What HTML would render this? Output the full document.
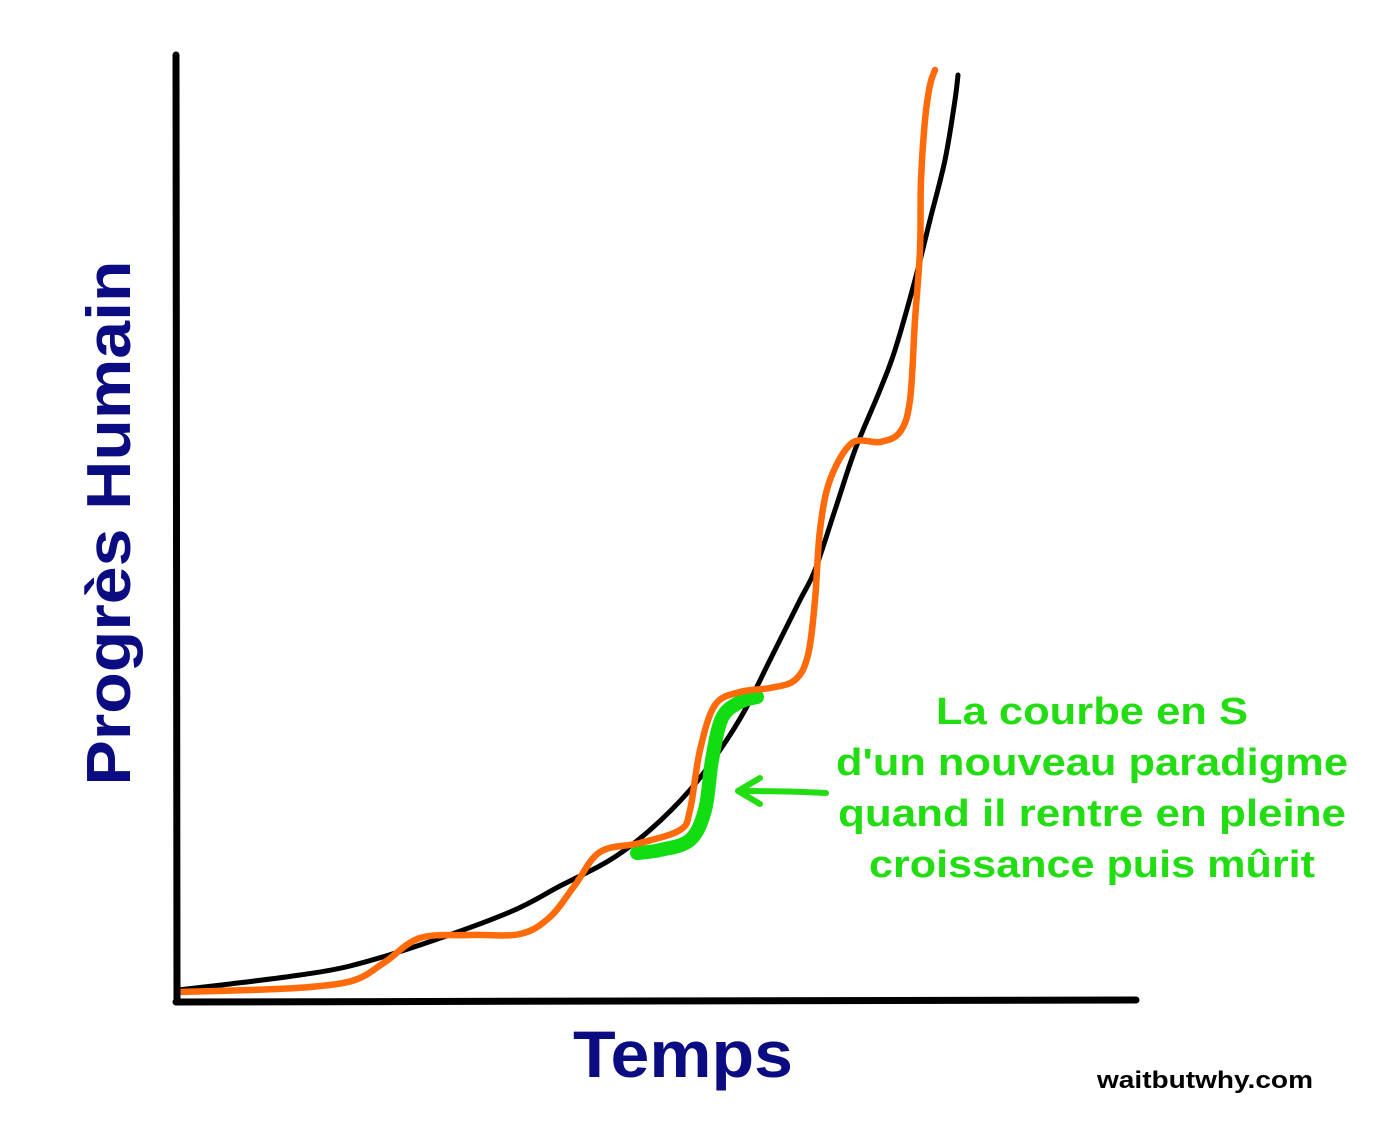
<!DOCTYPE html>
<html><head><meta charset="utf-8"><style>
html,body{margin:0;padding:0;background:#fff;}
svg{display:block;font-family:"Liberation Sans",Arial,sans-serif;}
</style></head><body>
<svg id="chart" width="1376" height="1124" viewBox="0 0 1376 1124">
<rect width="1376" height="1124" fill="#fff"/>
<g id="series"></g>
<line x1="176" y1="55" x2="177" y2="1002" stroke="#000" stroke-width="7" stroke-linecap="round"/>
<line x1="176" y1="1002" x2="1136" y2="1000" stroke="#000" stroke-width="7" stroke-linecap="round"/>
<text transform="translate(130,523) rotate(-90)" text-anchor="middle" font-size="62" font-weight="bold" fill="#0b0b82" textLength="525" lengthAdjust="spacingAndGlyphs">Progrès Humain</text>
<text x="683" y="1077" text-anchor="middle" font-size="66" font-weight="bold" fill="#0b0b82" textLength="220" lengthAdjust="spacingAndGlyphs">Temps</text>
<g font-size="38" font-weight="bold" fill="#22dd11" text-anchor="middle">
<text x="1092" y="724" textLength="312" lengthAdjust="spacingAndGlyphs">La courbe en S</text>
<text x="1092" y="775" textLength="512" lengthAdjust="spacingAndGlyphs">d'un nouveau paradigme</text>
<text x="1092" y="826" textLength="508" lengthAdjust="spacingAndGlyphs">quand il rentre en pleine</text>
<text x="1092" y="877" textLength="446" lengthAdjust="spacingAndGlyphs">croissance puis mûrit</text>
</g>
<g stroke="#22dd11" stroke-width="6" fill="none" stroke-linecap="round" stroke-linejoin="round">
<path d="M826,793 Q790,791 740,791"/>
<path d="M760,778 L738,791 L760,804"/>
</g>
<text x="1205" y="1088" text-anchor="middle" font-size="24" font-weight="bold" fill="#000" textLength="216" lengthAdjust="spacingAndGlyphs">waitbutwhy.com</text>
</svg>
<script>
// data: time (0..960) and progress (0..950)
const blackT = [2,54,124,174,244,334,384,434,474,514,544,569,594,624,639,659,679,704,719,739,754,769,779,782];
const blackP = [11,17,26,35,56,89,115,141,171,211,251,291,341,401,431,491,551,611,651,721,781,841,901,926];
const orangeT = [2,74,134,179,209,244,294,344,374,399,424,464,504,514,524,539,564,594,619,632,639,644,654,676,704,724,734,739,744,745,749,754,759];
const orangeP = [9,11,14,21,39,63,66,67,84,116,149,158,171,191,251,296,309,313,321,346,401,471,521,558,559,569,601,681,751,821,881,916,931];
const greenT = [461,484,514,529,536,546,564,581];
const greenP = [148,151,161,191,241,283,299,304];
const X0=176, Y0=1001;
function xScale(t){return X0+t;}
function yScale(p){return Y0-p;}
function smoothPath(ts,ps){
  const pts=ts.map((t,i)=>[xScale(t),yScale(ps[i])]);
  let d='M'+pts[0][0]+','+pts[0][1];
  for(let i=0;i<pts.length-1;i++){
    const p0=pts[i-1]||pts[i],p1=pts[i],p2=pts[i+1],p3=pts[i+2]||p2;
    const c1=[p1[0]+(p2[0]-p0[0])/6,p1[1]+(p2[1]-p0[1])/6];
    const c2=[p2[0]-(p3[0]-p1[0])/6,p2[1]-(p3[1]-p1[1])/6];
    d+=' C'+c1[0]+','+c1[1]+' '+c2[0]+','+c2[1]+' '+p2[0]+','+p2[1];
  }
  return d;
}
const g=document.getElementById('series');
function addLine(ts,ps,color,w,name){
  const el=document.createElementNS('http://www.w3.org/2000/svg','path');
  el.setAttribute('d',smoothPath(ts,ps));
  el.setAttribute('stroke',color);
  el.setAttribute('stroke-width',w);
  el.setAttribute('fill','none');
  el.setAttribute('stroke-linecap','round');
  el.setAttribute('stroke-linejoin','round');
  
  
  g.appendChild(el);
}
addLine(blackT,blackP,'#000',5,'exponential-curve');
addLine(greenT,greenP,'#11dd11',14,'s-curve-highlight');
addLine(orangeT,orangeP,'#ff6a0a',6.5,'paradigm-s-curves');
</script>
</body></html>
